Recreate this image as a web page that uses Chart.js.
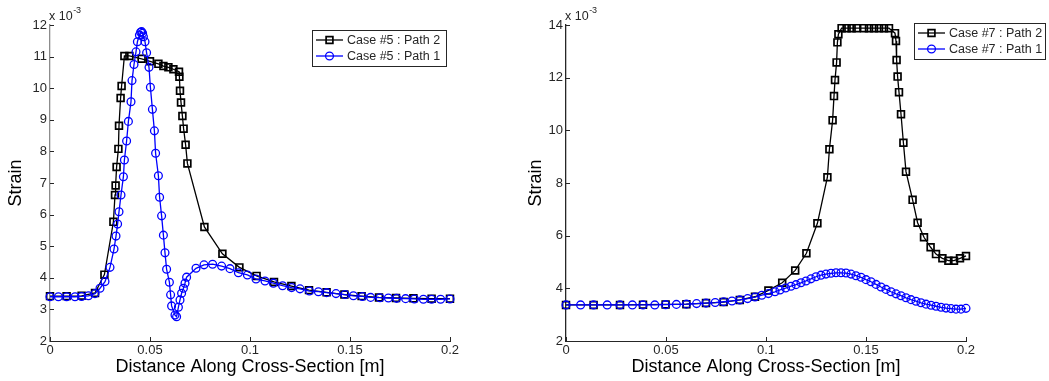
<!DOCTYPE html>
<html>
<head>
<meta charset="utf-8">
<title>Strain along cross-section</title>
<script src="https://cdn.jsdelivr.net/npm/chart.js@4.4.1/dist/chart.umd.min.js"></script>
<style>
  html, body { margin: 0; padding: 0; background: #fff; }
  #wrap { position: relative; width: 1049px; height: 381px; overflow: hidden; }
  #case5 { position: absolute; left: 0; top: 0; }
  #case7 { position: absolute; left: 520px; top: 0; }
</style>
</head>
<body>
<div id="wrap">
  <canvas id="case5" width="520" height="381"></canvas>
  <canvas id="case7" width="529" height="381"></canvas>
</div>
<script>
// distance [m] and strain [x 10^-3] for each path
const xTicks = [0, 0.05, 0.1, 0.15, 0.2];

const case5Path2X = [0, 0.0083, 0.0158, 0.0225, 0.0272, 0.0317, 0.0325, 0.0328, 0.0333, 0.0342, 0.0345, 0.0353, 0.0358,
  0.0372, 0.0397, 0.0458, 0.05, 0.0542, 0.0567, 0.0592, 0.0617, 0.0645, 0.0647, 0.065, 0.0655, 0.0662, 0.0668, 0.0678,
  0.0687, 0.0772, 0.0862, 0.0947, 0.1033, 0.112, 0.1207, 0.1295, 0.1383, 0.1472, 0.1558, 0.1645, 0.173, 0.1817, 0.1908, 0.2];
const case5Path2Y = [3.42, 3.42, 3.43, 3.52, 4.10, 5.77, 6.62, 6.92, 7.51, 8.08, 8.81, 9.69, 10.07,
  11.02, 11.02, 10.93, 10.85, 10.77, 10.70, 10.66, 10.60, 10.52, 10.36, 9.92, 9.55, 9.12, 8.72, 8.21,
  7.62, 5.61, 4.76, 4.33, 4.06, 3.87, 3.74, 3.61, 3.54, 3.47, 3.42, 3.38, 3.36, 3.35, 3.34, 3.34];

const case5Path1X = [0, 0.0042, 0.0083, 0.0125, 0.0158, 0.0192, 0.0225, 0.025, 0.0275, 0.03, 0.032, 0.033, 0.0338, 0.0345,
  0.0355, 0.0367, 0.0372, 0.0383, 0.0392, 0.0405, 0.041, 0.042, 0.043, 0.0437, 0.0447, 0.0453, 0.0458, 0.0463, 0.0467,
  0.0475, 0.0483, 0.0495, 0.0502, 0.0512, 0.0522, 0.0528, 0.0542, 0.0548, 0.0558, 0.0567, 0.0575, 0.0583, 0.0597,
  0.0603, 0.0608, 0.0625, 0.0633, 0.0642, 0.065, 0.0658, 0.0667, 0.0675, 0.0683, 0.073, 0.077, 0.0813, 0.0858, 0.09,
  0.0942, 0.0987, 0.103, 0.1075, 0.1117, 0.1163, 0.1208, 0.125, 0.1297, 0.1342, 0.1383, 0.143, 0.1475, 0.1517,
  0.1562, 0.1603, 0.165, 0.1692, 0.1733, 0.1778, 0.1822, 0.1867, 0.1908, 0.1953, 0.2];
const case5Path1Y = [3.40, 3.40, 3.40, 3.40, 3.41, 3.43, 3.50, 3.67, 3.88, 4.33, 4.91, 5.32, 5.70, 6.09,
  6.62, 7.20, 7.73, 8.33, 8.95, 9.57, 10.24, 10.75, 11.15, 11.47, 11.68, 11.77, 11.79, 11.74, 11.63,
  11.47, 11.12, 10.66, 10.03, 9.33, 8.65, 7.94, 7.23, 6.55, 5.96, 5.35, 4.79, 4.27, 3.86,
  3.46, 3.11, 2.82, 2.77, 3.07, 3.30, 3.51, 3.67, 3.83, 4.02, 4.30, 4.41, 4.43, 4.37, 4.29,
  4.16, 4.09, 3.96, 3.90, 3.83, 3.75, 3.69, 3.65, 3.58, 3.56, 3.53, 3.50, 3.47, 3.43,
  3.41, 3.38, 3.37, 3.36, 3.35, 3.34, 3.33, 3.32, 3.32, 3.32, 3.33];

const case7Path2X = [0, 0.0138, 0.027, 0.0385, 0.0498, 0.0602, 0.07, 0.0788, 0.0869, 0.0945, 0.1012, 0.1081, 0.1146,
  0.1202, 0.1257, 0.1307, 0.1317, 0.1333, 0.134, 0.1345, 0.1353, 0.1357, 0.1362, 0.1378, 0.1403, 0.1428, 0.1453,
  0.149, 0.1515, 0.154, 0.1565, 0.159, 0.1615, 0.1645, 0.165, 0.1653, 0.1658, 0.1665, 0.1675, 0.1687, 0.17,
  0.1733, 0.1758, 0.179, 0.1823, 0.185, 0.1882, 0.1912, 0.194, 0.197, 0.2];
const case7Path2Y = [3.37, 3.37, 3.37, 3.38, 3.39, 3.40, 3.44, 3.48, 3.56, 3.68, 3.92, 4.21, 4.68,
  5.33, 6.47, 8.22, 9.28, 10.38, 11.30, 11.91, 12.58, 13.34, 13.65, 13.88, 13.88, 13.88, 13.88,
  13.88, 13.88, 13.88, 13.88, 13.88, 13.88, 13.69, 13.39, 12.67, 12.04, 11.45, 10.61, 9.53, 8.43,
  7.36, 6.49, 5.94, 5.56, 5.30, 5.14, 5.05, 5.05, 5.14, 5.23];

const case7Path1X = [0, 0.0073, 0.0138, 0.0206, 0.027, 0.0332, 0.0385, 0.0444, 0.0498, 0.0552, 0.0602, 0.0653, 0.07,
  0.0746, 0.0788, 0.083, 0.0869, 0.0908, 0.0945, 0.0979, 0.1012, 0.1045, 0.107, 0.1098, 0.1125, 0.115, 0.1175, 0.12,
  0.1225, 0.125, 0.1275, 0.13, 0.1325, 0.135, 0.1375, 0.14, 0.1425, 0.145, 0.1475, 0.15, 0.1525, 0.155, 0.1575,
  0.16, 0.1625, 0.165, 0.1675, 0.17, 0.1725, 0.175, 0.1775, 0.18, 0.1825, 0.185, 0.1875, 0.19, 0.1925, 0.195,
  0.1975, 0.2];
const case7Path1Y = [3.37, 3.37, 3.37, 3.37, 3.37, 3.37, 3.37, 3.37, 3.38, 3.39, 3.40, 3.42, 3.44,
  3.46, 3.49, 3.52, 3.56, 3.61, 3.67, 3.74, 3.80, 3.87, 3.94, 4.01, 4.08, 4.14, 4.21, 4.28,
  4.36, 4.44, 4.50, 4.54, 4.57, 4.59, 4.59, 4.58, 4.54, 4.48, 4.42, 4.33, 4.25, 4.15, 4.05,
  3.96, 3.87, 3.79, 3.72, 3.64, 3.57, 3.51, 3.45, 3.40, 3.36, 3.32, 3.28, 3.25, 3.23, 3.21,
  3.21, 3.24];

const FONT = '"Liberation Sans", Arial, Helvetica, sans-serif';
const INK = '#262626';
Chart.defaults.font.family = FONT;
Chart.defaults.color = INK;

const pts = (xs, ys) => xs.map((x, i) => ({ x, y: ys[i] }));

const blackSeries = (label, data) => ({
  label, data, order: 1,
  borderColor: '#000000', borderWidth: 1.3,
  pointStyle: 'rect', pointRadius: 4.8, pointBorderWidth: 1.7,
  pointBorderColor: '#000000', pointBackgroundColor: 'rgba(0,0,0,0)',
  clip: false
});
const blueSeries = (label, data) => ({
  label, data, order: 0,
  borderColor: '#0000ff', borderWidth: 1.3,
  pointStyle: 'circle', pointRadius: 3.9, pointBorderWidth: 1.3,
  pointBorderColor: '#0000ff', pointBackgroundColor: 'rgba(0,0,0,0)',
  clip: false
});

// inward ticks, the x 10^-3 multiplier and a boxed legend
const decorations = {
  id: 'decorations',
  afterDraw(chart, args, opts) {
    const { ctx, chartArea: a, scales: { x, y } } = chart;
    ctx.save();
    ctx.strokeStyle = INK;
    ctx.lineWidth = 1;
    ctx.beginPath();
    x.ticks.forEach(t => {
      const px = Math.round(x.getPixelForValue(t.value)) + 0.5;
      ctx.moveTo(px, a.bottom); ctx.lineTo(px, a.bottom - 4);
    });
    y.ticks.forEach(t => {
      const py = Math.round(y.getPixelForValue(t.value)) + 0.5;
      ctx.moveTo(a.left, py); ctx.lineTo(a.left + 4, py);
    });
    ctx.stroke();

    ctx.fillStyle = INK;
    ctx.textAlign = 'left';
    ctx.textBaseline = 'alphabetic';
    ctx.font = '12.5px ' + FONT;
    const base = 'x 10';
    ctx.fillText(base, a.left - 1, a.top - 5);
    const bw = ctx.measureText(base).width;
    ctx.font = '9px ' + FONT;
    ctx.fillText('-3', a.left - 1 + bw + 0.5, a.top - 12);

    const L = opts.legend;
    ctx.fillStyle = '#ffffff';
    ctx.fillRect(L.x, L.y, L.w, L.h);
    ctx.strokeStyle = INK;
    ctx.lineWidth = 1;
    ctx.strokeRect(L.x + 0.5, L.y + 0.5, L.w, L.h);
    const rows = [...chart.data.datasets].sort((p, q) => q.order - p.order);
    rows.forEach((ds, i) => {
      const cy = L.y + 10 + i * 16;
      ctx.strokeStyle = ds.borderColor;
      ctx.lineWidth = 1.3;
      ctx.beginPath();
      ctx.moveTo(L.x + 4, cy); ctx.lineTo(L.x + 31, cy);
      ctx.stroke();
      ctx.lineWidth = ds.pointBorderWidth;
      ctx.beginPath();
      if (ds.pointStyle === 'rect') {
        const s = ds.pointRadius * Math.SQRT1_2;
        ctx.rect(L.x + 17.5 - s, cy - s, 2 * s, 2 * s);
      } else {
        ctx.arc(L.x + 17.5, cy, ds.pointRadius, 0, Math.PI * 2);
      }
      ctx.stroke();
      ctx.fillStyle = INK;
      ctx.font = '12.5px ' + FONT;
      ctx.textBaseline = 'middle';
      ctx.fillText(ds.label, L.x + 35, cy + 0.5);
    });
    ctx.restore();
  }
};

function makeChart(id, datasets, yMax, yStep, yAxisColor, pad, legend) {
  return new Chart(document.getElementById(id), {
    type: 'line',
    data: { datasets },
    options: {
      responsive: false,
      animation: false,
      events: [],
      layout: { padding: { left: 0, top: 25, right: pad.right, bottom: 0 } },
      plugins: {
        legend: { display: false },
        tooltip: { enabled: false },
        decorations: { legend }
      },
      scales: {
        x: {
          type: 'linear', min: 0, max: 0.2,
          afterFit: s => { s.height = 40; },
          afterBuildTicks: s => { s.ticks = xTicks.map(v => ({ value: v })); },
          ticks: {
            font: { size: 13 }, color: INK, padding: 2, maxRotation: 0,
            callback: v => String(Number(v.toFixed(2)))
          },
          grid: { display: false, drawTicks: false },
          border: { display: true, color: INK, width: 1 },
          title: {
            display: true, text: 'Distance Along Cross-Section [m]',
            font: { size: 18 }, color: '#000', padding: { top: 0, bottom: 3 }
          }
        },
        y: {
          type: 'linear', min: 2, max: yMax,
          afterFit: s => { s.width = pad.left; },
          ticks: { stepSize: yStep, font: { size: 13 }, color: INK, padding: 3 },
          grid: { display: false, drawTicks: false },
          border: { display: true, color: yAxisColor, width: 1.3 },
          title: {
            display: true, text: 'Strain',
            font: { size: 18 }, color: '#000', padding: { top: 5, bottom: 0 }
          }
        }
      }
    },
    plugins: [decorations]
  });
}

makeChart('case5', [
  blackSeries('Case #5 : Path 2', pts(case5Path2X, case5Path2Y)),
  blueSeries('Case #5 : Path 1', pts(case5Path1X, case5Path1Y))
], 12, 1, '#8c8c8c', { left: 50, right: 70 }, { x: 312, y: 30, w: 134, h: 36 });

makeChart('case7', [
  blackSeries('Case #7 : Path 2', pts(case7Path2X, case7Path2Y)),
  blueSeries('Case #7 : Path 1', pts(case7Path1X, case7Path1Y))
], 14, 2, INK, { left: 46, right: 83 }, { x: 394, y: 23, w: 131, h: 36 });
</script>
</body>
</html>
